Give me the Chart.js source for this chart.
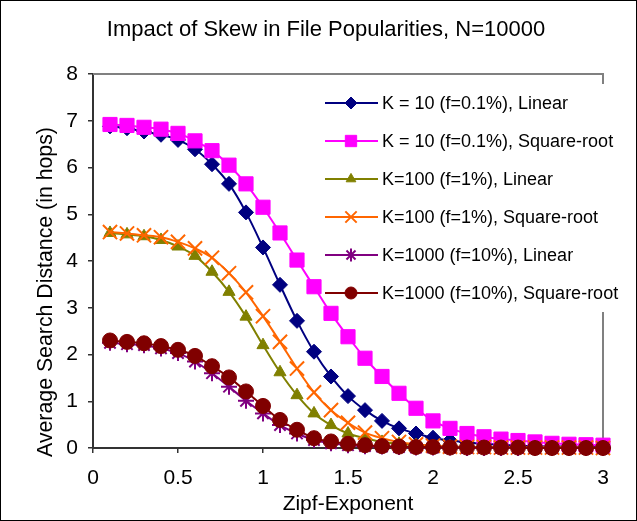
<!DOCTYPE html>
<html>
<head>
<meta charset="utf-8">
<title>Impact of Skew in File Popularities</title>
<script src="https://cdn.jsdelivr.net/npm/chart.js@4/dist/chart.umd.min.js"></script>
<style>
  html, body { margin: 0; padding: 0; background: #fff; }
  #wrap { width: 637px; height: 521px; }
</style>
</head>
<body>
<div id="wrap"><canvas id="skewChart" width="637" height="521"></canvas></div>
<script>
// Zipf exponent on the x axis
const zipf = [0.1, 0.2, 0.3, 0.4, 0.5, 0.6, 0.7, 0.8, 0.9, 1.0,
  1.1, 1.2, 1.3, 1.4, 1.5, 1.6, 1.7, 1.8, 1.9, 2.0,
  2.1, 2.2, 2.3, 2.4, 2.5, 2.6, 2.7, 2.8, 2.9, 3.0];

// average search distance (hops) per configuration
const k10Linear = [6.88, 6.84, 6.77, 6.70, 6.59, 6.39, 6.07, 5.65, 5.04, 4.29,
  3.49, 2.72, 2.06, 1.53, 1.11, 0.81, 0.58, 0.42, 0.31, 0.22,
  0.16, 0.12, 0.09, 0.07, 0.05, 0.04, 0.03, 0.03, 0.02, 0.02];
const k10Sqrt = [6.92, 6.90, 6.86, 6.82, 6.73, 6.57, 6.36, 6.05, 5.65, 5.15,
  4.60, 4.02, 3.45, 2.88, 2.38, 1.92, 1.53, 1.17, 0.85, 0.58,
  0.42, 0.31, 0.24, 0.19, 0.16, 0.13, 0.10, 0.08, 0.07, 0.06];
const k100Linear = [4.60, 4.57, 4.53, 4.45, 4.31, 4.11, 3.77, 3.34, 2.81, 2.20,
  1.62, 1.13, 0.74, 0.49, 0.31, 0.21, 0.13, 0.09, 0.06, 0.04,
  0.03, 0.02, 0.02, 0.01, 0.01, 0.01, 0.01, 0.01, 0.00, 0.00];
const k100Sqrt = [4.62, 4.59, 4.55, 4.51, 4.41, 4.27, 4.07, 3.74, 3.33, 2.82,
  2.27, 1.70, 1.19, 0.81, 0.54, 0.33, 0.21, 0.13, 0.08, 0.05,
  0.03, 0.02, 0.02, 0.01, 0.01, 0.01, 0.01, 0.01, 0.01, 0.00];
const k1000Linear = [2.25, 2.22, 2.20, 2.13, 2.03, 1.85, 1.60, 1.31, 1.01, 0.74,
  0.49, 0.31, 0.17, 0.10, 0.06, 0.04, 0.03, 0.02, 0.01, 0.01,
  0.01, 0.00, 0.00, 0.00, 0.00, 0.00, 0.00, 0.00, 0.00, 0.00];
const k1000Sqrt = [2.30, 2.27, 2.24, 2.18, 2.10, 1.97, 1.75, 1.51, 1.21, 0.90,
  0.60, 0.39, 0.21, 0.14, 0.09, 0.06, 0.04, 0.03, 0.02, 0.02,
  0.01, 0.01, 0.01, 0.01, 0.01, 0.00, 0.00, 0.00, 0.00, 0.00];

const seriesNames = [
  "K = 10 (f=0.1%), Linear",
  "K = 10 (f=0.1%), Square-root",
  "K=100 (f=1%), Linear",
  "K=100 (f=1%), Square-root",
  "K=1000 (f=10%), Linear",
  "K=1000 (f=10%), Square-root"
];

const chartTitle = "Impact of Skew in File Popularities, N=10000";
const yTitle = "Average Search Distance (in hops)";
const xTitle = "Zipf-Exponent";

const FONT = "'Liberation Sans', Arial, Helvetica, sans-serif";

const pts = (ys) => zipf.map((x, i) => ({ x: x, y: ys[i] }));

function series(i, ys, color, style, radius, filled) {
  return {
    label: seriesNames[i],
    data: pts(ys),
    borderColor: color,
    backgroundColor: color,
    borderWidth: 2,
    pointStyle: style,
    pointRadius: radius,
    pointHoverRadius: radius,
    pointBackgroundColor: filled ? color : "rgba(0,0,0,0)",
    pointBorderColor: color,
    pointBorderWidth: filled ? 1 : 2,
    cubicInterpolationMode: "monotone",
    clip: false,
    order: 5 - i // later series end up on top
  };
}

const datasets = [
  series(0, k10Linear, "#000080", "rectRot", 7.5, true),
  series(1, k10Sqrt, "#FF00FF", "rect", 10, true),
  series(2, k100Linear, "#808000", "triangle", 7, true),
  series(3, k100Sqrt, "#FF6600", "crossRot", 10, false),
  series(4, k1000Linear, "#800080", "star", 8, false),
  series(5, k1000Sqrt, "#800000", "circle", 7.5, true)
];

// chart title, rotated y title, grey plot frame and black outline
const frame = {
  id: "frame",
  beforeDatasetsDraw(chart) {
    const { ctx, chartArea: a } = chart;
    ctx.save();
    ctx.strokeStyle = "#808080";
    ctx.lineWidth = 2;
    ctx.beginPath();
    ctx.moveTo(a.left, a.top);
    ctx.lineTo(a.right, a.top);
    ctx.lineTo(a.right, a.bottom);
    ctx.stroke();
    ctx.restore();
  },
  afterDraw(chart) {
    const ctx = chart.ctx;
    ctx.save();
    ctx.fillStyle = "#000";
    ctx.textAlign = "center";
    ctx.textBaseline = "middle";
    ctx.font = "22px " + FONT;
    ctx.fillText(chartTitle, 326, 30);

    ctx.font = "21.3px " + FONT;
    ctx.translate(46, 292);
    ctx.rotate(-Math.PI / 2);
    ctx.fillText(yTitle, 0, 0);
    ctx.setTransform(1, 0, 0, 1, 0, 0);

    ctx.strokeStyle = "#000";
    ctx.lineWidth = 1;
    ctx.strokeRect(0.5, 0.5, chart.width - 1, chart.height - 1);
    ctx.restore();
  }
};

// legend box inside the plot, drawn under the data lines
const boxLegend = {
  id: "boxLegend",
  beforeDatasetsDraw(chart) {
    const ctx = chart.ctx;
    const x0 = 322, y0 = 103, rowH = 38;
    ctx.save();
    ctx.fillStyle = "#fff";
    ctx.fillRect(x0, 84, 312, 228);
    chart.data.datasets.forEach((ds, i) => {
      const y = y0 + i * rowH;
      ctx.strokeStyle = ds.borderColor;
      ctx.lineWidth = 2;
      ctx.beginPath();
      ctx.moveTo(x0 + 3, y);
      ctx.lineTo(x0 + 56, y);
      ctx.stroke();
      ctx.fillStyle = ds.pointBackgroundColor;
      ctx.strokeStyle = ds.pointBorderColor;
      ctx.lineWidth = ds.pointBorderWidth;
      Chart.helpers.drawPoint(ctx, {
        pointStyle: ds.pointStyle,
        rotation: 0,
        radius: ds.pointRadius * 0.8,
        borderWidth: ds.pointBorderWidth
      }, x0 + 29, y);
      ctx.fillStyle = "#000";
      ctx.font = "18px " + FONT;
      ctx.textBaseline = "middle";
      ctx.textAlign = "left";
      ctx.fillText(ds.label, x0 + 60, y + 1);
    });
    ctx.restore();
  }
};

new Chart(document.getElementById("skewChart"), {
  type: "line",
  data: { datasets: datasets },
  options: {
    responsive: false,
    animation: false,
    devicePixelRatio: 1,
    layout: { autoPadding: false, padding: { left: 30, right: 34, top: 74, bottom: 0 } },
    plugins: {
      legend: { display: false },
      tooltip: { enabled: false },
      title: { display: false }
    },
    scales: {
      x: {
        type: "linear",
        min: 0,
        max: 3,
        afterFit(scale) { scale.height = 73; },
        ticks: { stepSize: 0.5, color: "#000", padding: 13, maxRotation: 0,
          font: { family: FONT, size: 21 },
          callback: (v) => String(v) },
        grid: { drawOnChartArea: false, tickLength: 5, color: "#333", lineWidth: 1.5 },
        border: { color: "#333", width: 2 },
        title: { display: true, text: xTitle, color: "#000",
          font: { family: FONT, size: 21 }, padding: { top: 0, bottom: 4 } }
      },
      y: {
        min: 0,
        max: 8,
        afterFit(scale) { scale.width = 63; },
        ticks: { stepSize: 1, color: "#000", padding: 10,
          font: { family: FONT, size: 21 } },
        grid: { drawOnChartArea: false, tickLength: 5, color: "#333", lineWidth: 1.5 },
        border: { color: "#333", width: 2 }
      }
    }
  },
  plugins: [frame, boxLegend]
});
</script>
</body>
</html>
